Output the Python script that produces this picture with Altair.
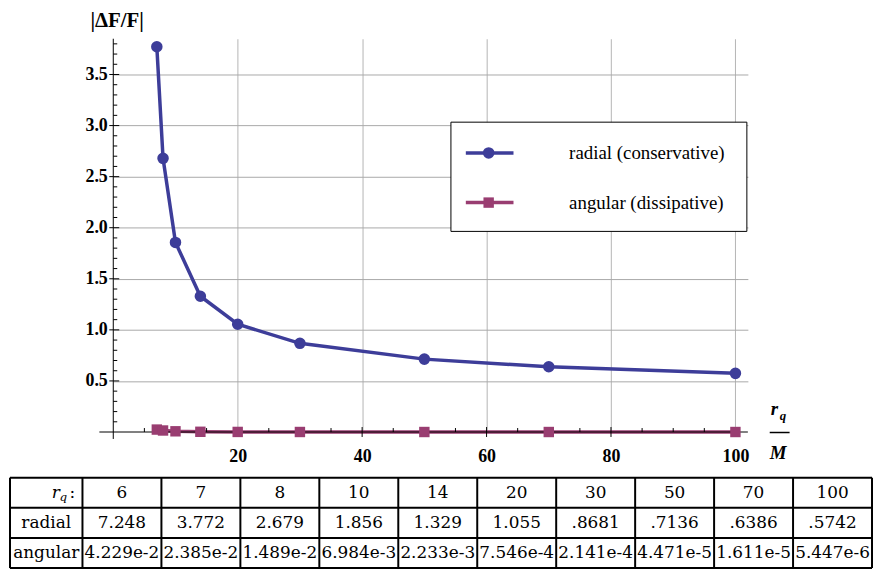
import altair as alt
import pandas as pd

# ---------------- data ----------------
r_q = [6, 7, 8, 10, 14, 20, 30, 50, 70, 100]
radial = [7.248, 3.772, 2.679, 1.856, 1.329, 1.055, 0.8681, 0.7136, 0.6386, 0.5742]
angular = [4.229e-2, 2.385e-2, 1.489e-2, 6.984e-3, 2.233e-3, 7.546e-4,
           2.141e-4, 4.471e-5, 1.611e-5, 5.447e-6]
radial_txt = ["7.248", "3.772", "2.679", "1.856", "1.329", "1.055",
              ".8681", ".7136", ".6386", ".5742"]
angular_txt = ["4.229e-2", "2.385e-2", "1.489e-2", "6.984e-3", "2.233e-3",
               "7.546e-4", "2.141e-4", "4.471e-5", "1.611e-5", "5.447e-6"]
series_names = ["radial (conservative)", "angular (dissipative)"]
row_names = ["radial", "angular"]

x_major = [20, 40, 60, 80, 100]
x_minor = [5, 10, 15, 25, 30, 35, 45, 50, 55, 65, 70, 75, 85, 90, 95]
y_major = [0.5, 1.0, 1.5, 2.0, 2.5, 3.0, 3.5]
y_minor = [0.1, 0.2, 0.3, 0.4, 0.6, 0.7, 0.8, 0.9, 1.1, 1.2, 1.3, 1.4,
           1.6, 1.7, 1.8, 1.9, 2.1, 2.2, 2.3, 2.4, 2.6, 2.7, 2.8, 2.9,
           3.1, 3.2, 3.3, 3.4, 3.6, 3.7, 3.8]

BLUE = "#3d3d99"
PURPLE = "#993d71"
SERIF = "Liberation Serif, Times New Roman, serif"
TSERIF = "DejaVu Serif, serif"

W, H = 639, 396

df = pd.DataFrame({
    "r": r_q * 2,
    "v": radial + angular,
    "s": [series_names[0]] * len(r_q) + [series_names[1]] * len(r_q),
})
# the r=6 radial value lies above the plotted range; both curves start at r=7
df_plot = df[df["r"] >= 7]

xs = alt.Scale(domain=[0, 102], nice=False, zero=False)
ys = alt.Scale(domain=[0, 3.85], nice=False, zero=False)

xaxis = alt.Axis(values=x_major, title=None, grid=True, gridColor="#b4b4b4",
                 ticks=False, tickSize=0, domain=False, labelFont=SERIF,
                 labelFontWeight="bold", labelFontSize=18, labelColor="black",
                 labelPadding=16, labelBaseline="top", labelFlush=False)
yaxis = alt.Axis(values=y_major, format=".1f", title=None, grid=True,
                 gridColor="#a8a8a8", ticks=False, tickSize=0, domain=False,
                 labelFont=SERIF, labelFontWeight="bold", labelFontSize=18,
                 labelColor="black", labelPadding=6, labelFlush=False,
                 labelBaseline="middle")


def X(f):
    return alt.X(f, scale=xs, axis=xaxis)


def Y(f):
    return alt.Y(f, scale=ys, axis=yaxis)


rad = alt.Chart(df_plot).transform_filter(alt.datum.s == series_names[0])
ang = alt.Chart(df_plot).transform_filter(alt.datum.s == series_names[1])

rad_line = rad.mark_line(color=BLUE, strokeWidth=3.5).encode(x=X("r:Q"), y=Y("v:Q"))
rad_pts = rad.mark_point(filled=True, shape="circle", size=135, color=BLUE,
                         opacity=1).encode(x=X("r:Q"), y=Y("v:Q"))
ang_line = ang.mark_line(color=PURPLE, strokeWidth=3.5).encode(x=X("r:Q"), y=Y("v:Q"))
ang_pts = ang.mark_point(filled=True, shape="square", size=110, color=PURPLE,
                         opacity=1).encode(x=X("r:Q"), y=Y("v:Q"))

zero = pd.DataFrame({"v": [0]})
x_axis_line = alt.Chart(zero).mark_rule(color="black", strokeWidth=1).encode(
    y=Y("v:Q"), x=alt.value(-14), x2=alt.value(W))
y_axis_line = alt.Chart(zero).mark_rule(color="black", strokeWidth=1).encode(
    x=X("v:Q"), y=alt.value(0), y2=alt.value(H + 7))

ymin_t = alt.Chart(pd.DataFrame({"v": y_minor})).mark_rule(color="black").encode(
    y=Y("v:Q"), x=alt.value(0), x2=alt.value(4))
ymaj_t = alt.Chart(pd.DataFrame({"v": y_major})).mark_rule(color="black").encode(
    y=Y("v:Q"), x=alt.value(-4), x2=alt.value(6))
xmin_t = alt.Chart(pd.DataFrame({"v": x_minor})).mark_rule(color="black").encode(
    x=X("v:Q"), y=alt.value(H - 4), y2=alt.value(H))
xmaj_t = alt.Chart(pd.DataFrame({"v": x_major})).mark_rule(color="black").encode(
    x=X("v:Q"), y=alt.value(H - 5), y2=alt.value(H + 5))

# legend
leg_box = alt.Chart(zero).mark_rect(fill="white", stroke="black", strokeWidth=1).encode(
    x=alt.value(340), x2=alt.value(638), y=alt.value(84), y2=alt.value(194))
leg_layers = []
for name, col, shape, yy in [(series_names[0], BLUE, "circle", 115),
                             (series_names[1], PURPLE, "square", 165)]:
    d = alt.Chart(pd.DataFrame({"name": [name]}))
    leg_layers.append(d.mark_rule(color=col, strokeWidth=3.5).encode(
        x=alt.value(355), x2=alt.value(403), y=alt.value(yy)))
    leg_layers.append(d.mark_point(filled=True, shape=shape, opacity=1, color=col,
                                   size=135 if shape == "circle" else 110).encode(
        x=alt.value(378), y=alt.value(yy)))
    leg_layers.append(d.mark_text(align="left", baseline="middle", font=SERIF,
                                  fontSize=19, color="black").encode(
        x=alt.value(459), y=alt.value(yy), text="name:N"))

# axis labels
title_txt = alt.Chart(pd.DataFrame({"t": ["|ΔF/F|"]})).mark_text(
    align="left", baseline="top", font=SERIF, fontWeight="bold", fontSize=21,
    color="black").encode(x=alt.value(-23), y=alt.value(-29), text="t:N")
frac = alt.Chart(pd.DataFrame({"a": ["r"], "b": ["q"], "c": ["M"]}))
frac_r = frac.mark_text(align="left", baseline="alphabetic", font=SERIF,
                        fontWeight="bold", fontStyle="italic", fontSize=19,
                        color="black").encode(x=alt.value(662), y=alt.value(379), text="a:N")
frac_q = frac.mark_text(align="left", baseline="alphabetic", font=SERIF,
                        fontWeight="bold", fontStyle="italic", fontSize=13,
                        color="black").encode(x=alt.value(671), y=alt.value(384), text="b:N")
frac_line = frac.mark_rule(color="black", strokeWidth=1.5).encode(
    x=alt.value(661), x2=alt.value(681), y=alt.value(396.5))
frac_m = frac.mark_text(align="left", baseline="alphabetic", font=SERIF,
                        fontWeight="bold", fontStyle="italic", fontSize=19,
                        color="black").encode(x=alt.value(661), y=alt.value(423), text="c:N")

main = alt.layer(
    rad_line, ang_line, x_axis_line, y_axis_line, ymin_t, ymaj_t, xmin_t, xmaj_t,
    ang_pts, rad_pts, leg_box, *leg_layers, title_txt, frac_r, frac_q, frac_line, frac_m
).properties(width=W, height=H)

# ---------------- table ----------------
TW, TH = 764, 91
tx = alt.Scale(domain=[-0.918, 10], range=[-104, TW], nice=False, zero=False)
ty = alt.Scale(domain=[0, 3], range=[0, TH], nice=False, zero=False)

cells = []
for i in range(len(r_q)):
    cells.append({"x": i + 0.5, "y": 0.5, "t": str(r_q[i])})
    cells.append({"x": i + 0.5, "y": 1.5, "t": radial_txt[i]})
    cells.append({"x": i + 0.5, "y": 2.5, "t": angular_txt[i]})
for j, nm in enumerate(row_names):
    cells.append({"x": -0.459, "y": j + 1.5, "t": nm})
cells_df = pd.DataFrame(cells)

v_edges = pd.DataFrame({"e": [-0.918] + list(range(len(r_q) + 1))})
h_edges = pd.DataFrame({"h": [0, 1, 2, 3]})

t_text = alt.Chart(cells_df).mark_text(font=TSERIF, fontSize=17, baseline="middle",
                                       color="black").encode(
    x=alt.X("x:Q", scale=tx, axis=None), y=alt.Y("y:Q", scale=ty, axis=None), text="t:N")
t_v = alt.Chart(v_edges).mark_rule(color="black", strokeWidth=2).encode(
    x=alt.X("e:Q", scale=tx, axis=None), y=alt.value(0), y2=alt.value(TH))
t_h = alt.Chart(h_edges).mark_rule(color="black", strokeWidth=2).encode(
    y=alt.Y("h:Q", scale=ty, axis=None), x=alt.value(-104), x2=alt.value(TW))
hdr = alt.Chart(pd.DataFrame({"x": [0], "y": [0.5], "a": ["r"], "b": ["q"], "c": [":"]}))
hdr_r = hdr.mark_text(font=TSERIF, fontStyle="italic", fontSize=17, align="left",
                      baseline="middle", dx=-31, color="black").encode(
    x=alt.X("x:Q", scale=tx, axis=None), y=alt.Y("y:Q", scale=ty, axis=None), text="a:N")
hdr_q = hdr.mark_text(font=TSERIF, fontStyle="italic", fontSize=12, align="left",
                      baseline="middle", dx=-23, dy=4, color="black").encode(
    x=alt.X("x:Q", scale=tx, axis=None), y=alt.Y("y:Q", scale=ty, axis=None), text="b:N")
hdr_c = hdr.mark_text(font=TSERIF, fontSize=17, align="left",
                      baseline="middle", dx=-13, color="black").encode(
    x=alt.X("x:Q", scale=tx, axis=None), y=alt.Y("y:Q", scale=ty, axis=None), text="c:N")

table = alt.layer(t_v, t_h, t_text, hdr_r, hdr_q, hdr_c).properties(width=TW, height=TH)

chart = alt.vconcat(main, table, spacing=11).properties(
    padding={"left": 1, "top": 0, "right": 0, "bottom": 0},
    background="white",
).configure_view(stroke=None)

chart.save("out.html", embed_options={"renderer": "svg", "actions": False})
